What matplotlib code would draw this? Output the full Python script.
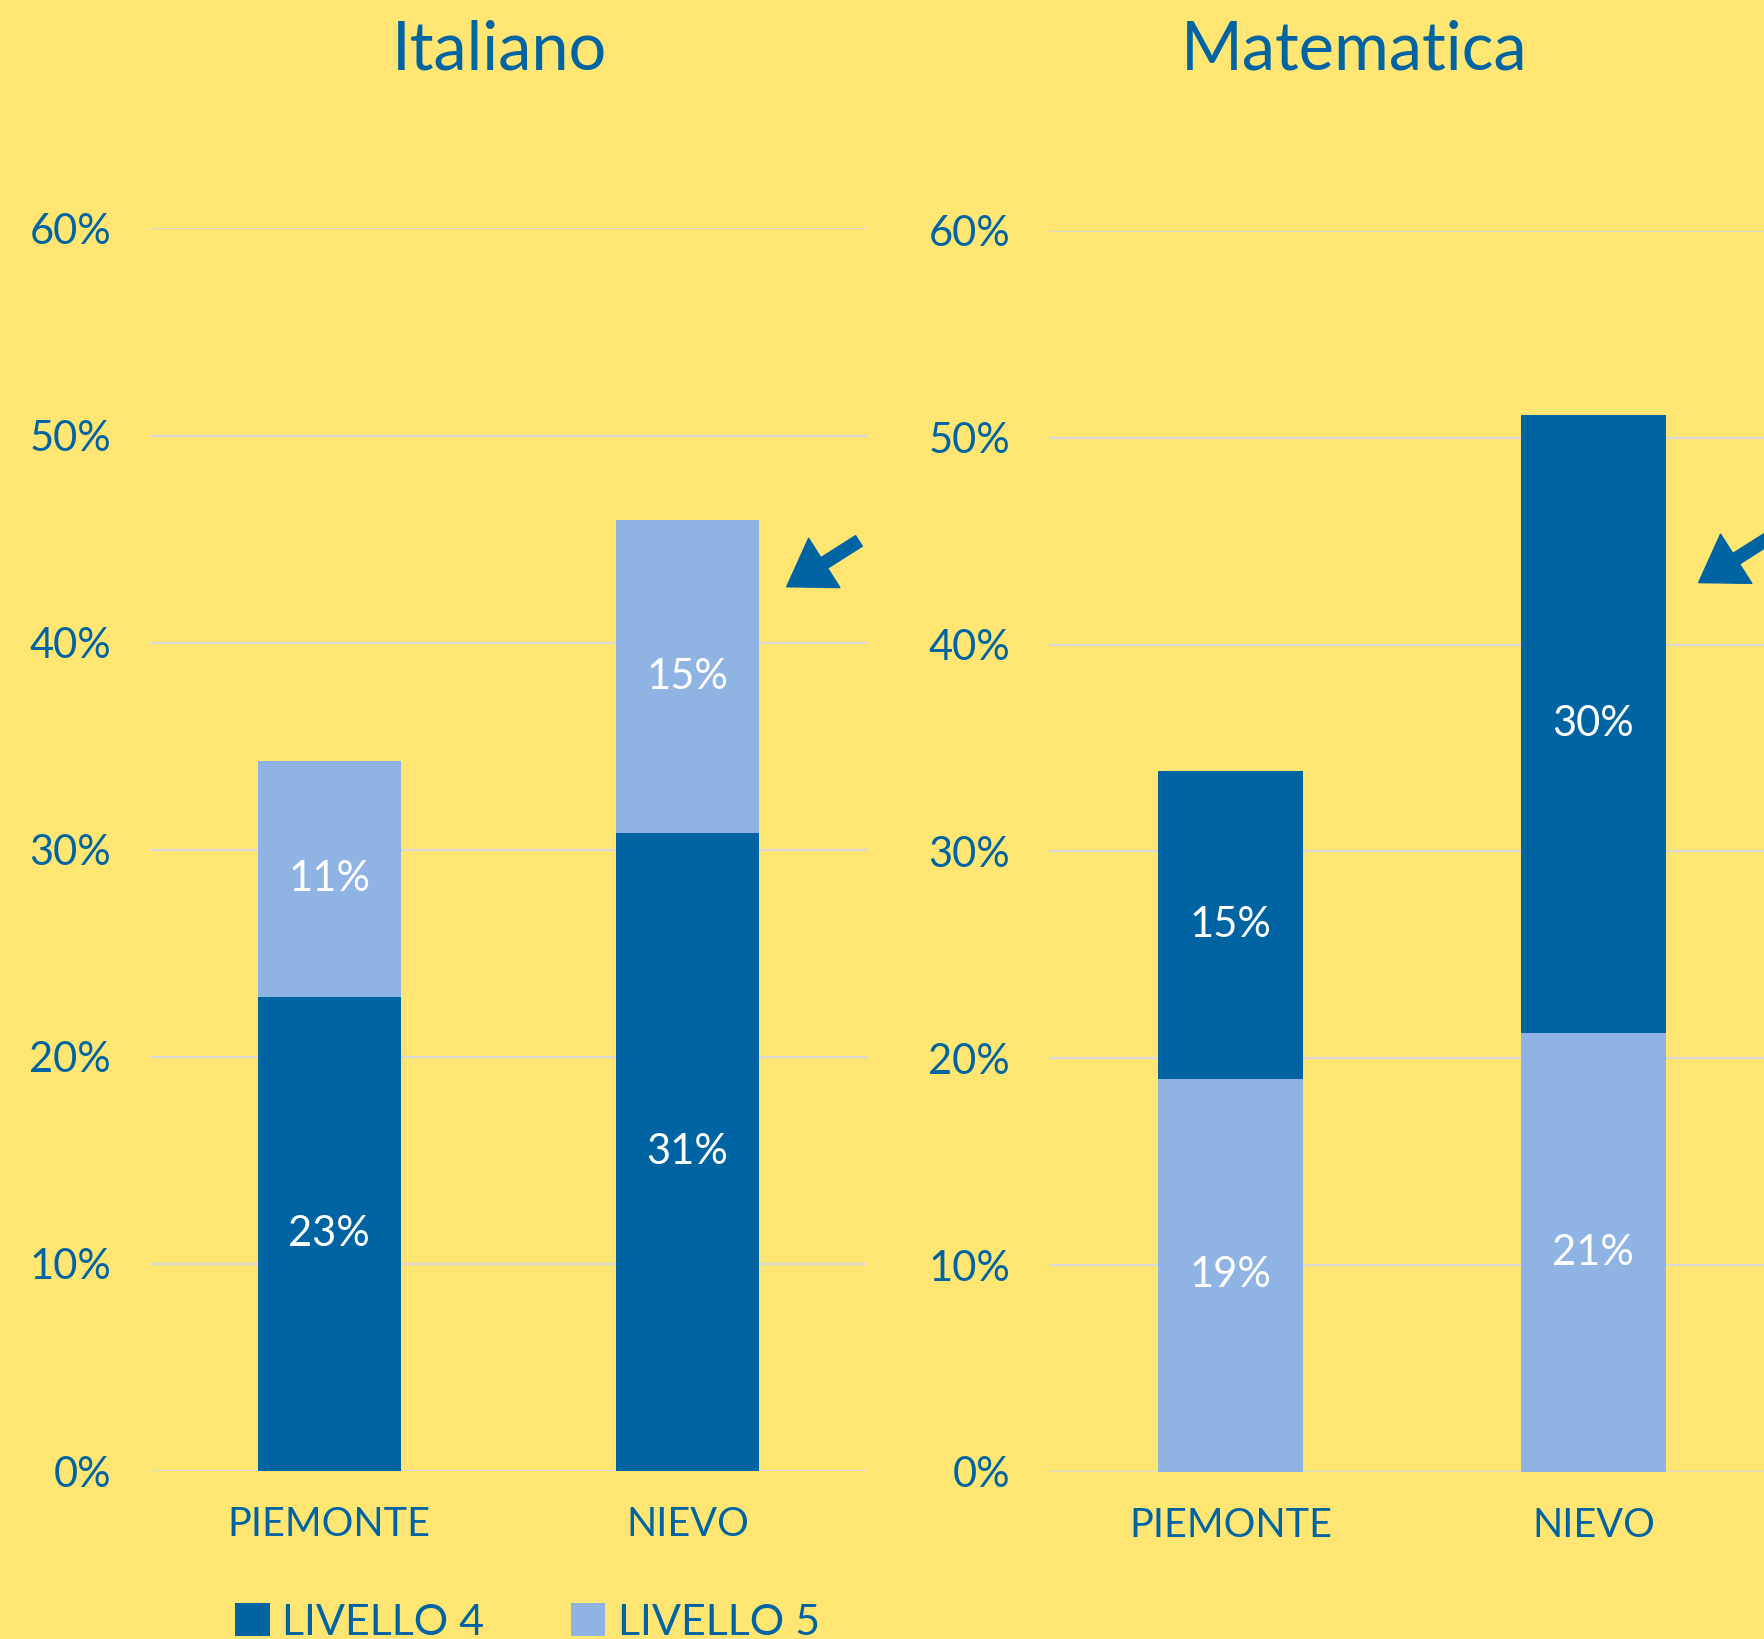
import matplotlib.pyplot as plt
from matplotlib.ticker import FuncFormatter

# data (percent)
categories = ['PIEMONTE', 'NIEVO']
ita_l4 = [22.9, 30.8]
ita_l5 = [11.4, 15.1]
mat_l4 = [14.9, 29.9]
mat_l5 = [19.0, 21.2]
yticks = [0, 10, 20, 30, 40, 50, 60]

dark = '#0064A3'
light = '#8FB4E3'
bg = '#FFE572'
grid = '#D9D9D9'

plt.rcParams['font.family'] = ['Lato', 'DejaVu Sans']

fig = plt.figure(figsize=(17.65, 16.39), dpi=100, facecolor=bg)
ax1 = fig.add_axes([0.085, 0.1025, 0.406, 0.7581])
ax2 = fig.add_axes([0.5943, 0.1019, 0.4113, 0.7572])


def style(ax):
    ax.set_facecolor(bg)
    ax.set_xlim(-0.5, 1.5)
    ax.set_ylim(0, 60)
    ax.set_yticks(yticks)
    ax.yaxis.set_major_formatter(FuncFormatter(lambda v, p: '%d%%' % v))
    ax.grid(axis='y', color=grid, linewidth=1.6)
    ax.set_axisbelow(True)
    for s in ax.spines.values():
        s.set_visible(False)
    ax.tick_params(axis='y', length=0, pad=28, labelsize=30, labelcolor=dark)
    ax.tick_params(axis='x', length=0, pad=25, labelsize=28.5, labelcolor=dark)
    ax.set_xticks(range(len(categories)))
    ax.set_xticklabels(categories)


x = range(len(categories))

# Italiano: livello 4 at bottom
b1 = ax1.bar(x, ita_l4, width=0.4, color=dark, label='LIVELLO 4')
b2 = ax1.bar(x, ita_l5, width=0.4, bottom=ita_l4, color=light, label='LIVELLO 5')
style(ax1)

# Matematica: livello 5 at bottom
c2 = ax2.bar(x, mat_l5, width=0.4, color=light)
c1 = ax2.bar(x, mat_l4, width=0.4, bottom=mat_l5, color=dark)
style(ax2)

for ax, groups in ((ax1, (b1, b2)), (ax2, (c1, c2))):
    for bars in groups:
        ax.bar_label(bars, fmt='%.0f%%', label_type='center', color='white', fontsize=30)

# arrows pointing at NIEVO bars
arrow = dict(arrowstyle='simple,head_length=32,head_width=42,tail_width=9',
             mutation_scale=1, color=dark, shrinkA=0, shrinkB=0)
ax1.annotate('', xy=(1.277, 42.7), xytext=(52, 33), textcoords='offset points',
             arrowprops=arrow)
ax2.annotate('', xy=(1.29, 43.0), xytext=(52, 33), textcoords='offset points',
             arrowprops=arrow)

fig.text(0.283, 0.969, 'Italiano', ha='center', va='center', fontsize=48, color=dark)
fig.text(0.767, 0.969, 'Matematica', ha='center', va='center', fontsize=48, color=dark)

fig.legend(handles=[b1, b2], labels=['LIVELLO 4', 'LIVELLO 5'], loc='center left',
           bbox_to_anchor=(0.121, 0.010), ncol=2, frameon=False, fontsize=31,
           labelcolor=dark, handlelength=0.8, handleheight=0.8, handletextpad=0.3,
           columnspacing=2.0, borderpad=0)

fig.savefig('out.png', dpi=100, facecolor=bg)
